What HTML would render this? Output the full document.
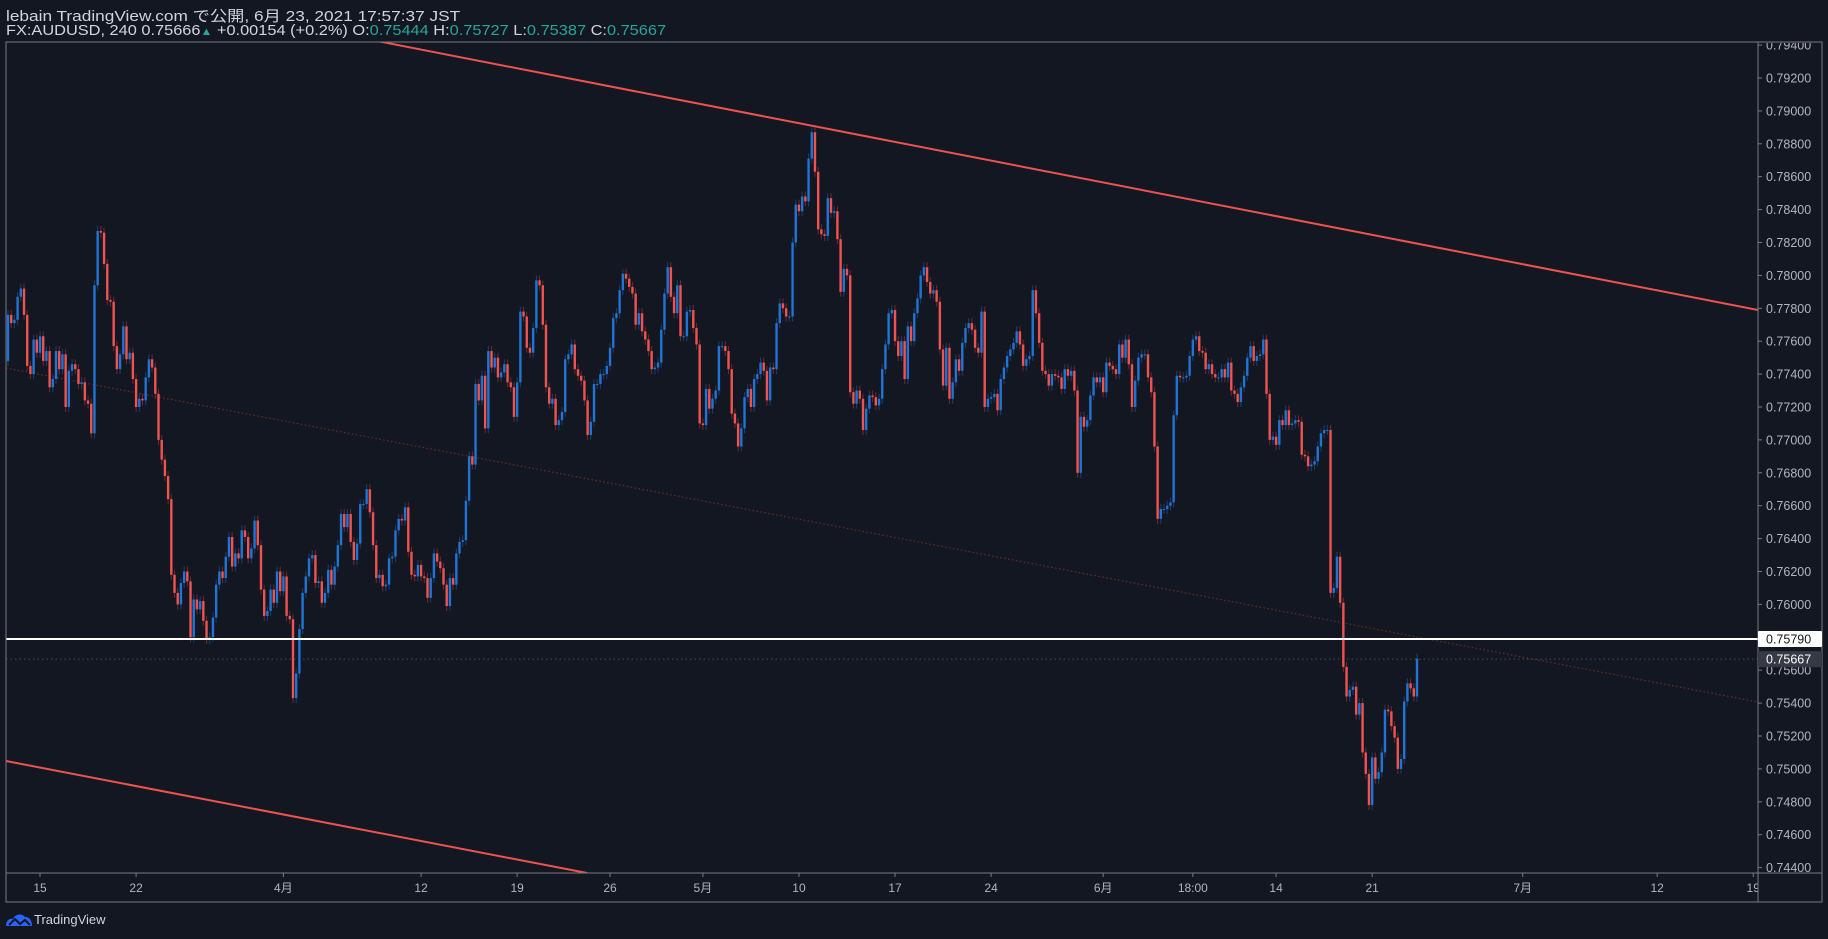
<!DOCTYPE html>
<html><head><meta charset="utf-8">
<style>
html,body{margin:0;padding:0;background:#131722;}
body{width:1828px;height:939px;overflow:hidden;position:relative;font-family:"Liberation Sans","Noto Sans CJK JP",sans-serif;}
.hdr{position:absolute;left:6px;color:#d1d4dc;font-size:15px;line-height:16px;white-space:nowrap;transform-origin:0 50%;}
.teal{color:#26a69a;}
svg{position:absolute;left:0;top:0;}
</style></head>
<body>
<div class="hdr" style="top:9px;transform:scaleX(1.15)">lebain TradingView.com で公開, 6月 23, 2021 17:57:37 JST</div>
<div class="hdr" style="top:23px;transform:scaleX(1.09)">FX:AUDUSD, 240 0.75666<span class="teal" style="font-size:11px">▲</span> +0.00154 (+0.2%) O:<span class="teal">0.75444</span> H:<span class="teal">0.75727</span> L:<span class="teal">0.75387</span> C:<span class="teal">0.75667</span></div>
<svg id="chart" width="1828" height="939"></svg>
<div style="position:absolute;left:34px;top:912px;color:#d1d4dc;font-size:13px">TradingView</div>
<svg width="28" height="18" style="left:5px;top:911px"><path d="M1 15 C1 9 5 7 8 8 C10 3 17 2 20 6 C25 6 27 10 27 15 Z" fill="#2962ff"/><path d="M4 14 L10 8 L15 13 L20 9 L25 14" stroke="#131722" stroke-width="2" fill="none"/></svg>
<script>
const closes = [
0.7776,0.7771,0.7773,0.7787,0.7792,0.7776,0.7745,0.7740,0.7761,0.7753,0.7763,0.7748,0.7754,0.7732,0.7737,0.7754,0.7743,0.7752,0.7720,0.7742,0.7746,0.7743,0.7734,0.7735,0.7724,0.7722,0.7704,0.7794,0.7827,0.7826,0.7807,0.7785,0.7784,0.7757,0.7743,0.7752,0.7769,0.7749,0.7753,0.7737,0.7720,0.7725,0.7724,0.7738,0.7749,0.7744,0.7728,0.7700,0.7688,0.7678,0.7664,0.7618,0.7607,0.7600,0.7613,0.7620,0.7614,0.7580,0.7603,0.7597,0.7602,0.7590,0.7579,0.7580,0.7592,0.7612,0.7620,0.7616,0.7629,0.7641,0.7623,0.7631,0.7628,0.7645,0.7641,0.7628,0.7634,0.7651,0.7636,0.7609,0.7593,0.7596,0.7609,0.7601,0.7620,0.7608,0.7617,0.7593,0.7591,0.7543,0.7558,0.7585,0.7607,0.7617,0.7628,0.7630,0.7613,0.7614,0.7601,0.7607,0.7621,0.7612,0.7623,0.7636,0.7655,0.7647,0.7655,0.7638,0.7627,0.7637,0.7661,0.7661,0.7670,0.7656,0.7636,0.7616,0.7618,0.7611,0.7612,0.7628,0.7629,0.7645,0.7652,0.7651,0.7659,0.7632,0.7618,0.7617,0.7624,0.7617,0.7616,0.7604,0.7616,0.7631,0.7626,0.7622,0.7612,0.7599,0.7616,0.7612,0.7631,0.7638,0.7639,0.7663,0.7690,0.7685,0.7734,0.7724,0.7739,
0.7707,0.7754,0.7744,0.7750,0.7738,0.7741,0.7746,0.7735,0.7732,0.7714,0.7735,0.7778,0.7775,0.7756,0.7753,0.7768,0.7797,0.7794,0.7770,0.7732,0.7722,0.7725,0.7709,0.7712,0.7717,0.7749,0.7752,0.7758,0.7743,0.7739,0.7736,0.7724,0.7703,0.7711,0.7734,0.7734,0.7740,0.7740,0.7745,0.7756,0.7774,0.7777,0.7791,0.7801,0.7798,0.7793,0.7789,0.7770,0.7777,0.7766,0.7761,0.7754,0.7743,0.7744,0.7747,0.7767,0.7789,0.7805,0.7787,0.7777,0.7794,0.7763,0.7763,0.7778,0.7779,0.7768,0.7758,0.7710,0.7709,0.7731,0.7719,0.7725,0.7730,0.7757,0.7757,0.7754,0.7743,0.7716,0.7710,0.7696,0.7707,0.7726,0.7731,0.7720,0.7737,0.7740,0.7747,0.7742,0.7724,0.7744,0.7743,0.7771,0.7783,0.7780,0.7775,0.7775,0.7820,0.7843,0.7839,0.7848,0.7845,0.7871,0.7887,0.7863,0.7828,0.7825,0.7824,0.7847,0.7838,0.7839,0.7822,0.7790,0.7804,0.7800,0.7729,0.7722,0.7730,0.7725,0.7706,0.7719,0.7727,0.7726,0.7721,0.7725,0.7743,0.7758,0.7777,0.7779,0.7760,0.7751,0.7760,0.7737,0.7769,0.7760,0.7777,0.7786,
0.7800,0.7805,0.7796,0.7789,0.7791,0.7784,0.7755,0.7733,0.7756,0.7725,0.7735,0.7749,0.7742,0.7759,0.7768,0.7771,0.7767,0.7756,0.7753,0.7778,0.7720,0.7725,0.7726,0.7728,0.7718,0.7737,0.7744,0.7751,0.7755,0.7759,0.7766,0.7758,0.7745,0.7749,0.7751,0.7791,0.7777,0.7759,0.7742,0.7740,0.7733,0.7740,0.7739,0.7738,0.7731,0.7743,0.7739,0.7742,0.7730,0.7680,0.7714,0.7708,0.7712,0.7727,0.7738,0.7735,0.7738,0.7729,0.7747,0.7745,0.7743,0.7740,0.7758,0.7750,0.7761,0.7746,0.7720,0.7736,0.7750,0.7752,0.7752,0.7738,0.7729,0.7696,0.7652,0.7658,0.7658,0.7660,0.7662,0.7715,0.7739,0.7738,0.7738,0.7739,0.7751,0.7761,0.7763,0.7754,0.7753,0.7743,0.7746,0.7740,0.7738,0.7738,0.7743,0.7738,0.7747,0.7730,0.7728,0.7723,0.7732,0.7739,0.7750,0.7757,0.7748,0.7751,0.7752,0.7761,0.7728,0.7700,0.7702,0.7697,0.7712,0.7709,0.7718,0.7709,0.7710,0.7712,0.7711,0.7691,0.7690,0.7684,0.7685,0.7687,0.7696,0.7704,0.7706,0.7706,
0.7607,0.7610,0.7629,0.7601,0.7562,0.7544,0.7548,0.7550,0.7533,0.7540,0.7510,0.7497,0.7478,0.7507,0.7494,0.7498,0.7510,0.7536,0.7535,0.7526,0.7519,0.7500,0.7506,0.7541,0.7552,0.7549,0.7544,0.7567
];
const firstOpen = 0.7748;
const priceTicks = [0.794,0.792,0.790,0.788,0.786,0.784,0.782,0.780,0.778,0.776,0.774,0.772,0.770,0.768,0.766,0.764,0.762,0.760,0.758,0.756,0.754,0.752,0.750,0.748,0.746,0.744];
const timeLabels = ["15","22","4月","12","19","26","5月","10","17","24","6月","18:00","14","21","7月","12","19"];
const timeLabelBars = [10,40,86,129,159,188,217,247,277,307,342,370,396,426,473,515,545];
const horizLevel = 0.75790;
const lastPrice = 0.75667;

const svg = document.getElementById('chart');
const NS = 'http://www.w3.org/2000/svg';
const L=6, T=42, R=1758, B=873;
const barX0 = 8, barX1 = 1417;
const step = (barX1-barX0)/(closes.length-1);
function xOf(i){ return barX0 + i*step; }
function yOf(p){ return 78 + (0.792-p)/0.002*32.9; }
function mk(tag, attrs, parent){ const e=document.createElementNS(NS,tag); for(const k in attrs) e.setAttribute(k,attrs[k]); (parent||svg).appendChild(e); return e; }

const defs = mk('defs',{});
const cp = mk('clipPath',{id:'plotclip'},defs);
mk('rect',{x:L,y:T,width:R-L,height:B-T},cp);
const cp2 = mk('clipPath',{id:'timeclip'},defs);
mk('rect',{x:L,y:B,width:R-L,height:30},cp2);
const cp3 = mk('clipPath',{id:'priceclip'},defs);
mk('rect',{x:R,y:T+1,width:70,height:902-T},cp3);

const g = mk('g',{'clip-path':'url(#plotclip)'});


const tg = mk('g',{'clip-path':'url(#timeclip)'});


const pg = mk('g',{'clip-path':'url(#priceclip)'});



let e = mk('line',{x1:L,y1:368,x2:R,y2:702,stroke:'#6b2a30','stroke-width':1.2,'stroke-dasharray':'1.5 2.5'},g);


e = mk('line',{x1:L,y1:yOf(lastPrice),x2:R,y2:yOf(lastPrice),stroke:'#4a4e5a','stroke-width':1,'stroke-dasharray':'1.5 3'},g);



let prev = firstOpen;
for(let i=0;i<closes.length;i++){
  const o=prev, c=closes[i]; prev=c;
  const up = c>=o;
  const x = xOf(i);
  const yt = yOf(Math.max(o,c)), yb = yOf(Math.min(o,c));
  const w = mk('line',{x1:x,y1:yt-5,x2:x,y2:yb+5,stroke:up?'#1d3f6b':'#6e2a30','stroke-width':1},g);
  
  
  const r = mk('rect',{x:x-1.2,y:yt,width:2.4,height:Math.max(1,yb-yt),fill:up?'#1f74d6':'#ef5350'},g);
  
  
}

e = mk('line',{x1:377,y1:41,x2:1758,y2:310,stroke:'#ef5350','stroke-width':2},g);


e = mk('line',{x1:6,y1:761,x2:587,y2:873,stroke:'#ef5350','stroke-width':2},g);


e = mk('line',{x1:L,y1:yOf(horizLevel),x2:R,y2:yOf(horizLevel),stroke:'#ffffff','stroke-width':2},g);



e = mk('rect',{x:L,y:T,width:1822-L,height:902-T,fill:'none',stroke:'#787b86','stroke-width':1});


e = mk('line',{x1:R,y1:T,x2:R,y2:902,stroke:'#787b86','stroke-width':1});


e = mk('line',{x1:L,y1:B,x2:1822,y2:B,stroke:'#787b86','stroke-width':1});



for(const p of priceTicks){
  const y=yOf(p);
  const tk = mk('line',{x1:R,y1:y,x2:R+4,y2:y,stroke:'#787b86'},pg);
  
  
  const t = mk('text',{x:1766,y:y+4.5,fill:'#b2b5be','font-size':12.5,'font-family':'Liberation Sans, sans-serif'},pg);
  t.textContent = p.toFixed(5);
  
  
}
function tag(p, bg, fg, name){
  const y=yOf(p);
  const r = mk('rect',{x:R,y:y-8,width:64,height:16,fill:bg,rx:1});
  
  
  const t = mk('text',{x:1766,y:y+4.5,fill:fg,'font-size':12.5,'font-family':'Liberation Sans, sans-serif'});
  t.textContent = p.toFixed(5);
  
  
}
tag(lastPrice,'#363a45','#ffffff','last-price-label');
tag(horizLevel,'#ffffff','#131722','horizontal-level-label');

for(let i=0;i<timeLabels.length;i++){
  const x = xOf(timeLabelBars[i]);
  const tk = mk('line',{x1:x,y1:B,x2:x,y2:B+4,stroke:'#787b86'},tg);
  
  
  const t = mk('text',{x:x,y:892,fill:'#b2b5be','font-size':12,'text-anchor':'middle','font-family':'Liberation Sans, Noto Sans CJK JP, sans-serif'},tg);
  t.textContent = timeLabels[i];
  
  
}
</script>
</body></html>
